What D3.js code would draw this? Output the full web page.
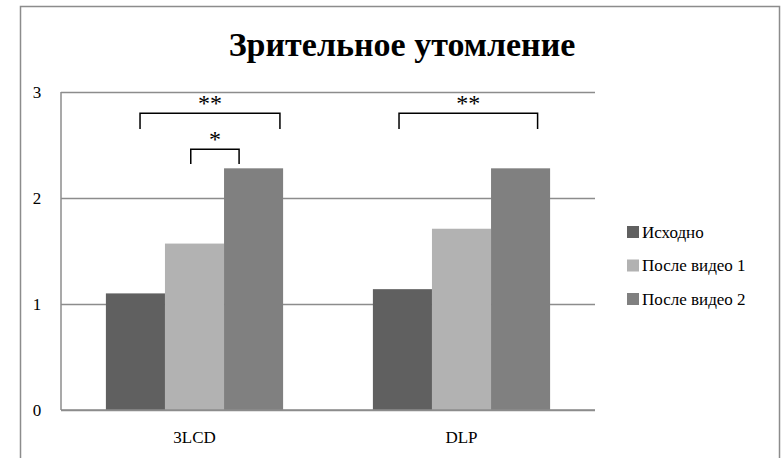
<!DOCTYPE html>
<html>
<head>
<meta charset="utf-8">
<script src="https://cdn.jsdelivr.net/npm/d3@7"></script>
</head>
<body style="margin:0">
<svg id="s" width="784" height="458" style="font-family:'Liberation Serif'"></svg>
<script>
const categories = ["3LCD", "DLP"];
const seriesNames = ["Исходно", "После видео 1", "После видео 2"];
const seriesColors = ["#606060", "#b2b2b2", "#808080"];
const values3LCD = [1.1, 1.57, 2.28];
const valuesDLP = [1.14, 1.71, 2.28];
const yTicks = [0, 1, 2, 3];
// significance brackets: category, start/end as fraction of band, top & leg bottom in data units
const brackets = [
  { cat: "3LCD", from: 0.296, to: 0.82, top: 2.80, bottom: 2.65, label: "**" },
  { cat: "3LCD", from: 0.486, to: 0.667, top: 2.46, bottom: 2.32, label: "*" },
  { cat: "DLP", from: 0.266, to: 0.785, top: 2.80, bottom: 2.65, label: "**" }
];

const data = categories.map((c, i) => ({
  cat: c,
  vals: [values3LCD, valuesDLP][i]
}));

const svg = d3.select("#s");
const margin = { top: 92, left: 61, right: 189, bottom: 48 };
const W = 784, H = 458;
const width = W - margin.left - margin.right;
const height = H - margin.top - margin.bottom;

function label(sel, size, weight) {
  sel.style("font-family", "'Liberation Serif'")
    .style("font-size", size)
    .style("font-weight", weight || "normal");
}

// outer frame
svg.append("rect")
  .attr("x", 20.5).attr("y", 6.5)
  .attr("width", 759).attr("height", 470)
  .attr("fill", "none")
  .attr("stroke", "#8c8c8c")
  .attr("stroke-width", 1.5);

svg.append("text")
  .attr("x", 402)
  .attr("y", 56)
  .attr("text-anchor", "middle")
  .call(label, "34px", "bold")
  .text("Зрительное утомление");

const g = svg.append("g").attr("transform", `translate(${margin.left},${margin.top})`);

const x0 = d3.scaleBand().domain(categories).range([0, width]);
const x1 = d3.scaleBand().domain(seriesNames)
  .range([0, x0.bandwidth()])
  .paddingOuter(0.76).paddingInner(0);
const y = d3.scaleLinear().domain([0, 3]).range([height, 0]);
const color = d3.scaleOrdinal().domain(seriesNames).range(seriesColors);

// gridlines
g.append("g")
  .call(d3.axisLeft(y).tickValues(yTicks).tickSize(-width).tickFormat(""))
  .call(a => a.select(".domain").remove())
  .selectAll("line").attr("stroke", "#8c8c8c").attr("stroke-width", 1.5);

g.append("line")
  .attr("x1", 0).attr("x2", 0).attr("y1", 0).attr("y2", height)
  .attr("stroke", "#8c8c8c").attr("stroke-width", 1.5);

// y labels
g.selectAll(".ylab")
  .data(yTicks)
  .enter().append("text")
  .attr("x", -24)
  .attr("y", d => y(d))
  .attr("dy", "0.33em")
  .attr("text-anchor", "middle")
  .call(label, "17px")
  .text(d => d);

// bars
const groups = g.selectAll(".grp")
  .data(data)
  .enter().append("g")
  .attr("transform", d => `translate(${x0(d.cat)},0)`);

groups.selectAll("rect")
  .data(d => d.vals.map((v, i) => ({ name: seriesNames[i], v })))
  .enter().append("rect")
  .attr("x", d => x1(d.name))
  .attr("width", x1.bandwidth())
  .attr("y", d => y(d.v))
  .attr("height", d => height - y(d.v))
  .attr("fill", d => color(d.name));

// baseline on top
g.append("line")
  .attr("x1", 0).attr("x2", width).attr("y1", y(0)).attr("y2", y(0))
  .attr("stroke", "#8c8c8c").attr("stroke-width", 1.5);

// category labels
g.selectAll(".xlab")
  .data(categories)
  .enter().append("text")
  .attr("x", d => x0(d) + x0.bandwidth() / 2)
  .attr("y", height + 33)
  .attr("text-anchor", "middle")
  .call(label, "17px")
  .text(d => d);

// brackets
brackets.forEach(b => {
  const xa = x0(b.cat) + b.from * x0.bandwidth();
  const xb = x0(b.cat) + b.to * x0.bandwidth();
  g.append("path")
    .attr("d", `M${xa},${y(b.bottom)}V${y(b.top)}H${xb}V${y(b.bottom)}`)
    .attr("fill", "none")
    .attr("stroke", "#000")
    .attr("stroke-width", 1.5);
  g.append("text")
    .attr("x", (xa + xb) / 2)
    .attr("y", y(b.top) - 2)
    .attr("text-anchor", "middle")
    .call(label, "24px")
    .text(b.label);
});

// legend
const legend = svg.append("g").attr("transform", "translate(627,232)");
const rows = legend.selectAll(".row")
  .data(seriesNames)
  .enter().append("g")
  .attr("transform", (d, i) => `translate(0,${i * 33.5})`);
rows.append("rect")
  .attr("x", 0).attr("y", -6)
  .attr("width", 12).attr("height", 12)
  .attr("fill", d => color(d));
rows.append("text")
  .attr("x", 15)
  .attr("dy", "0.35em")
  .call(label, "17px")
  .text(d => d);
</script>
</body>
</html>
